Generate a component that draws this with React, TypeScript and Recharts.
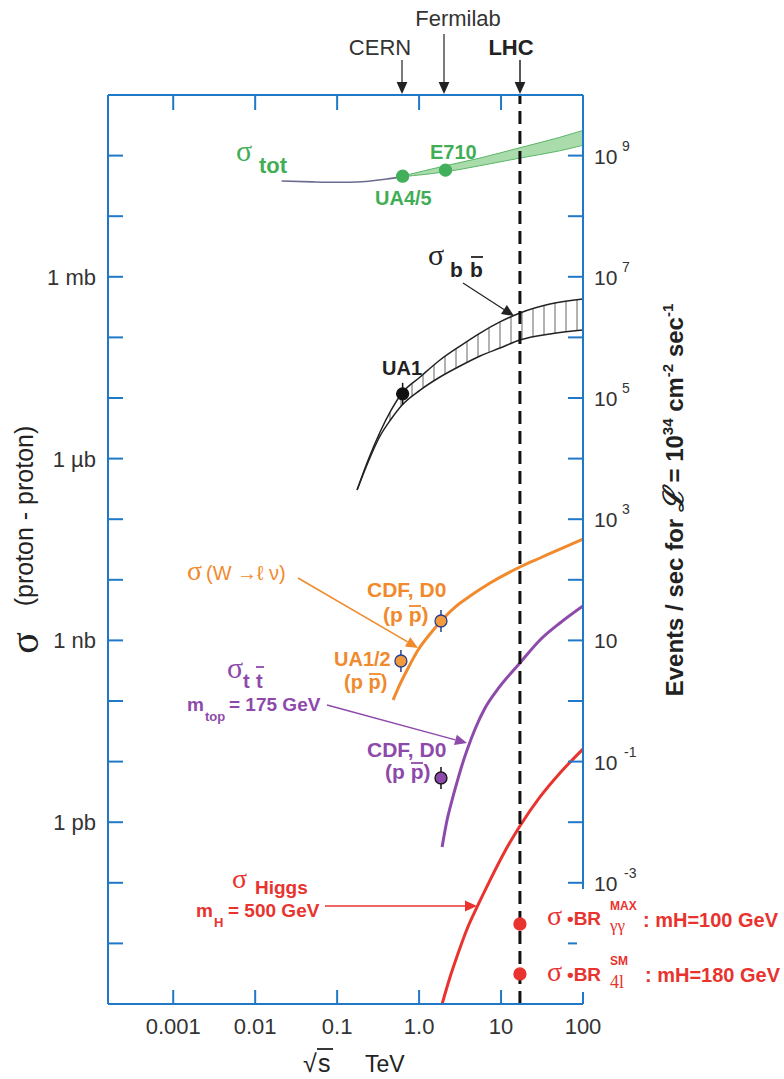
import React from "react";
import { ComposedChart, XAxis, YAxis, Line, Area, Scatter, ReferenceLine } from "recharts";

// sqrt(s) en TeV, sigma en pb (1 mb = 1e9 pb, 1 nb = 1e3 pb)
const X_DOMAIN = [0.00016, 100];
const Y_DOMAIN = [1e-3, 1e12];
const X_TICKS = [0.001, 0.01, 0.1, 1, 10, 100];
const X_TICK_LABELS = ["0.001", "0.01", "0.1", "1.0", "10", "100"];
const Y_TICKS = [1e-2, 1e-1, 1, 10, 1e2, 1e3, 1e4, 1e5, 1e6, 1e7, 1e8, 1e9, 1e10, 1e11];
const LEFT_LABELS: Record<string, string> = { "1000000000": "1 mb", "1000000": "1 \u00b5b", "1000": "1 nb", "1": "1 pb" };
// events/sec = sigma(pb) * 1e-2 pour L = 1e34
const RIGHT_LABELS: Record<string, [string, string]> = {
  "100000000000": ["10", "9"],
  "1000000000": ["10", "7"],
  "10000000": ["10", "5"],
  "100000": ["10", "3"],
  "1000": ["10", ""],
  "10": ["10", "-1"],
  "0.1": ["10", "-3"],
};

const LHC_X = 17;

const TOT_LINE_X = [0.021, 0.05, 0.1, 0.2, 0.4, 0.63];
const TOT_LINE_Y = [3.8e10, 3.68e10, 3.63e10, 3.7e10, 4.1e10, 4.5e10];
const TOT_BAND_X = [0.63, 2.1, 5.5, 17, 52, 100];
const TOT_BAND_LO = [4.5e10, 5.4e10, 6.8e10, 9.1e10, 1.2e11, 1.48e11];
const TOT_BAND_HI = [4.6e10, 6.8e10, 9.1e10, 1.35e11, 2.0e11, 2.6e11];

const BB_X = [0.175, 0.239, 0.334, 0.456, 0.62, 1.03, 1.8, 3.16, 5.55, 9.7, 17, 39.6, 100];
const BB_HI = [3.03e5, 9.5e5, 2.75e6, 6.3e6, 1.21e7, 2.22e7, 4.24e7, 7.2e7, 1.18e8, 1.8e8, 2.53e8, 3.56e8, 4.3e8];
const BB_LO = [3.03e5, 8.8e5, 2.36e6, 4.5e6, 7.66e6, 1.35e7, 2.22e7, 3.37e7, 4.93e7, 6.68e7, 9.06e7, 1.14e8, 1.32e8];

const W_X = [0.482, 0.587, 0.735, 0.972, 1.36, 1.855, 2.75, 4.19, 7.35, 17, 29.9, 52.4, 100];
const W_Y = [104, 191, 351, 695, 1276, 2090, 3556, 5405, 8858, 16250, 22900, 32200, 47100];

const TT_X = [1.908, 2.195, 2.526, 2.907, 3.345, 3.85, 4.82, 6.38, 8.94, 17, 29.9, 52.4, 100];
const TT_Y = [0.39, 1.086, 2.32, 4.6, 8.79, 15.5, 34.5, 76.6, 151.7, 423.6, 1016, 1937, 3698];

const H_X = [1.908, 2.388, 3.0, 3.85, 5.1, 7.35, 11.2, 17, 29.9, 52.4, 100];
const H_Y = [0.001, 0.00279, 0.00695, 0.0173, 0.0399, 0.111, 0.335, 0.865, 2.61, 6.49, 16.1];

// mesures
const TOT_PTS_X = [0.63, 2.1];
const TOT_PTS_Y = [4.57e10, 5.75e10];
const UA1_X = [0.63];
const UA1_Y = [1.17e7];
const W_PTS_X = [0.6, 1.85];
const W_PTS_Y = [457, 2090];
const TT_PTS_X = [1.85];
const TT_PTS_Y = [5.37];
const H_PTS_X = [17, 17];
const H_PTS_Y = [0.0209, 0.00313];

const zip = (xs: number[], ys: number[]) => xs.map((x, i) => ({ x, y: ys[i] }));
const band = (xs: number[], lo: number[], hi: number[]) => xs.map((x, i) => ({ x, lo: lo[i], hi: hi[i] }));

const W = 784;
const H = 1079;
const PL = 108;
const PR = 583;
const PT = 95;
const PB = 1004;

const BLUE = "#1f78c8";
const GREEN = "#3fae55";
const ORANGE = "#f08a2c";
const PURPLE = "#8d4aab";
const RED = "#e8332f";
const INK = "#222";
const SANS = "'Liberation Sans', Arial, Helvetica, sans-serif";
const SERIF = "'Liberation Serif', 'Times New Roman', serif";

const leftTick = (p: any) => {
  const label = LEFT_LABELS[String(p.payload.value)];
  return (
    <g>
      <line x1={PL} x2={PL + 15} y1={p.y} y2={p.y} stroke={BLUE} strokeWidth={2} />
      {label && (
        <text x={96} y={p.y + 8} textAnchor="end" fontSize={22} fill="#333" fontFamily={SANS}>
          {label}
        </text>
      )}
    </g>
  );
};

const rightTick = (p: any) => {
  const label = RIGHT_LABELS[String(p.payload.value)];
  return (
    <g>
      <line x1={PR - 15} x2={PR} y1={p.y} y2={p.y} stroke={BLUE} strokeWidth={2} />
      {label && (
        <text x={594} y={p.y + 8} fontSize={21} fill="#333" fontFamily={SANS}>
          {label[0]}
          {label[1] && (
            <tspan x={label[1].length > 1 ? 624 : 622} y={p.y - 5} fontSize={14}>
              {label[1]}
            </tspan>
          )}
        </text>
      )}
    </g>
  );
};

const bottomTick = (p: any) => {
  const i = X_TICKS.indexOf(p.payload.value);
  return (
    <g>
      <line x1={p.x} x2={p.x} y1={PB - 14} y2={PB} stroke={BLUE} strokeWidth={2} />
      <text x={p.x} y={PB + 30} textAnchor="middle" fontSize={22} fill="#333" fontFamily={SANS}>
        {X_TICK_LABELS[i]}
      </text>
    </g>
  );
};

const topTick = (p: any) => (
  <line x1={p.x} x2={p.x} y1={PT} y2={PT + 15} stroke={BLUE} strokeWidth={2} />
);

const dotShape = (fill: string, edge: string, bar: string | null) => (p: any) => (
  <g>
    {bar && <line x1={p.cx} x2={p.cx} y1={p.cy - 11} y2={p.cy + 11} stroke={bar} strokeWidth={1.5} />}
    <circle cx={p.cx} cy={p.cy} r={6} fill={fill} stroke={edge} strokeWidth={1.3} />
  </g>
);

function Arrow({ x1, y1, x2, y2, color, w = 1.5, head = 12 }: any) {
  const a = Math.atan2(y2 - y1, x2 - x1);
  const hx = x2 - head * Math.cos(a);
  const hy = y2 - head * Math.sin(a);
  const px = Math.sin(a) * head * 0.45;
  const py = -Math.cos(a) * head * 0.45;
  return (
    <g>
      <line x1={x1} y1={y1} x2={hx} y2={hy} stroke={color} strokeWidth={w} />
      <polygon points={`${x2},${y2} ${hx + px},${hy + py} ${hx - px},${hy - py}`} fill={color} />
    </g>
  );
}

function T({ x, y, size = 20, bold = false, color = INK, serif = false, anchor = "start", children }: any) {
  return (
    <text
      x={x}
      y={y}
      fontSize={size}
      fontWeight={bold ? "bold" : "normal"}
      fill={color}
      fontFamily={serif ? SERIF : SANS}
      textAnchor={anchor}
    >
      {children}
    </text>
  );
}

const Bar = ({ x1, x2, y, color }: any) => <line x1={x1} x2={x2} y1={y} y2={y} stroke={color} strokeWidth={1.8} />;

function Annotations() {
  return (
    <svg width={W} height={H} style={{ position: "absolute", left: 0, top: 0, pointerEvents: "none" }}>
      {/* machines */}
      <T x={458} y={26} size={22} color="#333" anchor="middle">Fermilab</T>
      <T x={380} y={55} size={22} color="#333" anchor="middle">CERN</T>
      <T x={511} y={55} size={22} bold anchor="middle">LHC</T>
      <Arrow x1={402} y1={60} x2={402} y2={94} color={INK} w={1.2} />
      <Arrow x1={444} y1={34} x2={444} y2={94} color={INK} w={1.2} />
      <Arrow x1={520} y1={60} x2={520} y2={94} color={INK} w={1.5} />

      {/* sigma tot */}
      <T x={236} y={161} size={30} serif color={GREEN}>σ</T>
      <T x={259} y={173} size={22} bold color={GREEN}>tot</T>
      <T x={430} y={159} size={20} bold color={GREEN}>E710</T>
      <T x={375} y={205} size={20} bold color={GREEN}>UA4/5</T>

      {/* sigma bb */}
      <T x={428} y={265} size={30} serif>σ</T>
      <T x={450} y={277} size={21} bold>b</T>
      <T x={470} y={277} size={21} bold>b</T>
      <Bar x1={471} x2={483} y={257} color={INK} />
      <Arrow x1={463} y1={283} x2={514} y2={316} color={INK} w={1.2} />
      <T x={382} y={375} size={20} bold>UA1</T>

      {/* W -> l nu */}
      <T x={187} y={580} size={28} serif color={ORANGE}>σ</T>
      <T x={206} y={580} size={20} color={ORANGE}>(W →ℓ ν)</T>
      <Arrow x1={298} y1={578} x2={418} y2={648} color={ORANGE} w={1.5} />
      <T x={367} y={597} size={21} bold color={ORANGE}>CDF, D0</T>
      <T x={383} y={622} size={21} bold color={ORANGE}>(p p)</T>
      <Bar x1={409} x2={421} y={606} color={ORANGE} />
      <T x={334} y={666} size={20} bold color={ORANGE}>UA1/2</T>
      <T x={344} y={689} size={20} bold color={ORANGE}>(p p)</T>
      <Bar x1={369} x2={381} y={674} color={ORANGE} />

      {/* top */}
      <T x={227} y={678} size={30} serif color={PURPLE}>σ</T>
      <T x={243} y={688} size={20} bold color={PURPLE}>t</T>
      <T x={256} y={688} size={20} bold color={PURPLE}>t</T>
      <Bar x1={256} x2={264} y={667} color={PURPLE} />
      <T x={187} y={711} size={19} bold color={PURPLE}>m</T>
      <T x={205} y={721} size={13} bold color={PURPLE}>top</T>
      <T x={229} y={711} size={19} bold color={PURPLE}>= 175 GeV</T>
      <Arrow x1={327} y1={705} x2={467} y2={743} color={PURPLE} w={1.5} />
      <T x={367} y={757} size={21} bold color={PURPLE}>CDF, D0</T>
      <T x={385} y={779} size={21} bold color={PURPLE}>(p p)</T>
      <Bar x1={411} x2={423} y={763} color={PURPLE} />

      {/* Higgs */}
      <T x={232} y={888} size={28} serif color={RED}>σ</T>
      <T x={255} y={894} size={19} bold color={RED}>Higgs</T>
      <T x={196} y={917} size={19} bold color={RED}>m</T>
      <T x={214} y={927} size={13} bold color={RED}>H</T>
      <T x={228} y={917} size={19} bold color={RED}>= 500 GeV</T>
      <Arrow x1={325} y1={906} x2={477} y2={906} color={RED} w={1.5} />

      <rect x={577} y={889} width={15} height={103} fill="#fff" />
      <T x={547} y={925} size={28} serif color={RED}>σ</T>
      <T x={567} y={925} size={19} bold color={RED}>•BR</T>
      <T x={610} y={910} size={12} bold color={RED}>MAX</T>
      <T x={610} y={931} size={17} serif color={RED}>γγ</T>
      <T x={643} y={927} size={20} bold color={RED}>: mH=100 GeV</T>
      <T x={547} y={981} size={28} serif color={RED}>σ</T>
      <T x={567} y={981} size={19} bold color={RED}>•BR</T>
      <T x={610} y={965} size={12} bold color={RED}>SM</T>
      <T x={610} y={988} size={18} serif color={RED}>4l</T>
      <T x={645} y={982} size={20} bold color={RED}>: mH=180 GeV</T>

      {/* titres d'axes */}
      <text transform="translate(38,643) rotate(-90)" textAnchor="middle" fontSize={40} fontFamily={SERIF} fill={INK}>
        σ
      </text>
      <text transform="translate(33,516) rotate(-90)" textAnchor="middle" fontSize={25} fontFamily={SANS} fill={INK}>
        (proton - proton)
      </text>
      <text transform="translate(683,500) rotate(-90)" textAnchor="middle" fontSize={24} fontWeight="bold" fontFamily={SANS} fill={INK}>
        Events / sec for <tspan fontFamily={SERIF} fontStyle="italic" fontSize={28}>ℒ</tspan> = 10
        <tspan dy={-10} fontSize={15}>34</tspan>
        <tspan dy={10}> cm</tspan>
        <tspan dy={-10} fontSize={15}>-2</tspan>
        <tspan dy={10}> sec</tspan>
        <tspan dy={-10} fontSize={15}>-1</tspan>
      </text>
      <T x={303} y={1072} size={25}>√</T>
      <T x={318} y={1072} size={25}>s</T>
      <Bar x1={317} x2={333} y={1049} color={INK} />
      <T x={365} y={1072} size={23}>TeV</T>
    </svg>
  );
}

export default function App() {
  const ax = { xAxisId: "b", yAxisId: "l" };
  return (
    <div style={{ position: "absolute", left: 0, top: 0, width: W, height: H, background: "#fff" }}>
      <svg width={0} height={0} style={{ position: "absolute" }}>
        <defs>
          <pattern id="bbHatch" width={11} height={11} patternUnits="userSpaceOnUse">
            <rect width={11} height={11} fill="#fff" />
            <line x1={5} y1={0} x2={5} y2={11} stroke="#666" strokeWidth={1} />
          </pattern>
        </defs>
      </svg>
      <ComposedChart width={W} height={H} margin={{ top: 0, right: 0, bottom: 0, left: 0 }}>
        <XAxis
          xAxisId="b"
          dataKey="x"
          type="number"
          scale="log"
          domain={X_DOMAIN}
          ticks={X_TICKS}
          interval={0}
          allowDataOverflow
          height={H - PB}
          axisLine={{ stroke: BLUE, strokeWidth: 2 }}
          tickLine={false}
          tickSize={0}
          tickMargin={0}
          tick={bottomTick}
        />
        <XAxis
          xAxisId="t"
          orientation="top"
          dataKey="x"
          type="number"
          scale="log"
          domain={X_DOMAIN}
          ticks={X_TICKS}
          interval={0}
          allowDataOverflow
          height={PT}
          axisLine={{ stroke: BLUE, strokeWidth: 2 }}
          tickLine={false}
          tickSize={0}
          tickMargin={0}
          tick={topTick}
        />
        <YAxis
          yAxisId="l"
          type="number"
          scale="log"
          domain={Y_DOMAIN}
          ticks={Y_TICKS}
          interval={0}
          allowDataOverflow
          width={PL}
          axisLine={{ stroke: BLUE, strokeWidth: 2 }}
          tickLine={false}
          tickSize={0}
          tickMargin={0}
          tick={leftTick}
        />
        <YAxis
          yAxisId="r"
          orientation="right"
          type="number"
          scale="log"
          domain={Y_DOMAIN}
          ticks={Y_TICKS}
          interval={0}
          allowDataOverflow
          width={W - PR}
          axisLine={{ stroke: BLUE, strokeWidth: 2 }}
          tickLine={false}
          tickSize={0}
          tickMargin={0}
          tick={rightTick}
        />

        <Area
          {...ax}
          data={band(TOT_BAND_X, TOT_BAND_LO, TOT_BAND_HI)}
          dataKey={(d: any) => [d.lo, d.hi]}
          type="monotone"
          fill="#a9dcaa"
          fillOpacity={1}
          stroke="#5cb56a"
          strokeWidth={1}
          isAnimationActive={false}
        />
        <Line {...ax} data={zip(TOT_LINE_X, TOT_LINE_Y)} dataKey="y" type="monotone" stroke="#6b6b8f" strokeWidth={1.6} dot={false} isAnimationActive={false} />

        <Area
          {...ax}
          data={band(BB_X, BB_LO, BB_HI)}
          dataKey={(d: any) => [d.lo, d.hi]}
          type="monotone"
          fill="url(#bbHatch)"
          fillOpacity={1}
          stroke={INK}
          strokeWidth={1.5}
          isAnimationActive={false}
        />

        <Line {...ax} data={zip(W_X, W_Y)} dataKey="y" type="monotone" stroke={ORANGE} strokeWidth={3} dot={false} isAnimationActive={false} />
        <Line {...ax} data={zip(TT_X, TT_Y)} dataKey="y" type="monotone" stroke={PURPLE} strokeWidth={3} dot={false} isAnimationActive={false} />
        <Line {...ax} data={zip(H_X, H_Y)} dataKey="y" type="monotone" stroke={RED} strokeWidth={3} dot={false} isAnimationActive={false} />

        <ReferenceLine {...ax} x={LHC_X} stroke="#111" strokeWidth={3} strokeDasharray="13 7" />

        <Scatter {...ax} data={zip(TOT_PTS_X, TOT_PTS_Y)} dataKey="y" shape={dotShape("#42b05a", "#42b05a", null)} isAnimationActive={false} />
        <Scatter {...ax} data={zip(UA1_X, UA1_Y)} dataKey="y" shape={dotShape("#111", "#111", "#111")} isAnimationActive={false} />
        <Scatter {...ax} data={zip(W_PTS_X, W_PTS_Y)} dataKey="y" shape={dotShape("#f39a3c", "#2b3f8c", "#2b3f8c")} isAnimationActive={false} />
        <Scatter {...ax} data={zip(TT_PTS_X, TT_PTS_Y)} dataKey="y" shape={dotShape("#8d4aab", "#111", "#111")} isAnimationActive={false} />
        <Scatter {...ax} data={zip(H_PTS_X, H_PTS_Y)} dataKey="y" shape={dotShape(RED, RED, null)} isAnimationActive={false} />
      </ComposedChart>
      <Annotations />
    </div>
  );
}
